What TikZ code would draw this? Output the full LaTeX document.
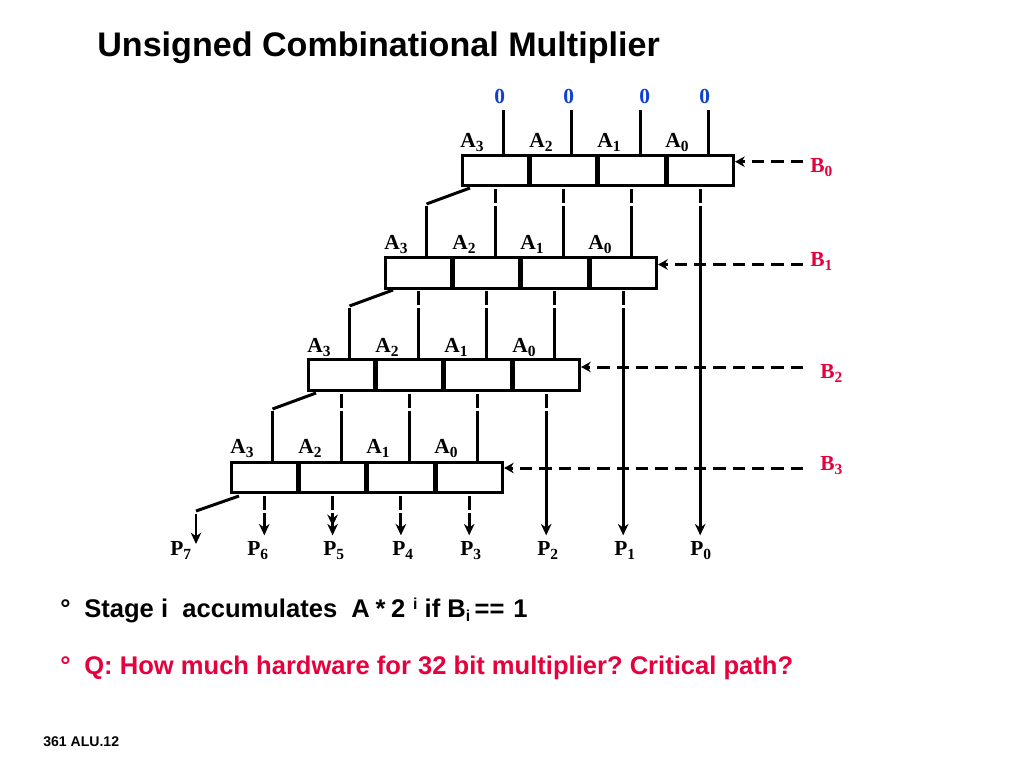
\documentclass[tikz,border=0pt]{standalone}
\usepackage{fontspec}
\setmainfont{Liberation Serif}
\newfontfamily\sansfont{Liberation Sans}
\usetikzlibrary{arrows.meta}
\usepackage{xcolor}
\definecolor{zeroblue}{HTML}{1040D0}
\definecolor{selred}{HTML}{E6003C}
\newcommand{\lbl}[2]{#1\raisebox{-2.8pt}{\fontsize{8.8}{9}\selectfont #2}}
\frenchspacing

\begin{document}
\begin{tikzpicture}[x=0.02cm,y=-0.02cm,
    cell/.style={draw,line width=1.7pt,minimum width=37.7pt,minimum height=17.6pt,inner sep=0pt,outer sep=0pt},
    pin/.style={inner sep=0pt,anchor=base west,font=\bfseries\fontsize{12.2}{14}\selectfont},
    sumtext/.style={inner sep=0pt,anchor=base west,font=\sansfont\bfseries\fontsize{14.55}{16}\selectfont},
    wire/.style={line width=1.7pt},
    tapped/.style={wire,shorten <=1.7pt,dash pattern=on 8pt off 1.7pt on 400pt},
    tip/.style={-{Stealth[length=6.5pt,width=6pt]}},
    sel/.style={line width=1.7pt,dash pattern=on 7pt off 4pt,-{Stealth[length=5.5pt,width=6pt]},shorten >=1pt}]
        \useasboundingbox (0,0) rectangle (1024,768);

        \node[inner sep=0pt,anchor=base west,font=\sansfont\bfseries\fontsize{19.4}{22}\selectfont] (title) at (97,56) {Unsigned Combinational Multiplier};

        % rows of adders
        \node[cell] (r0a3) at (495.3,170.5) {};
        \node[cell] (r0a2) at (563.6,170.5) {};
        \node[cell] (r0a1) at (631.9,170.5) {};
        \node[cell] (r0a0) at (700.2,170.5) {};
        \node[cell] (r1a3) at (418.3,272.7) {};
        \node[cell] (r1a2) at (486.6,272.7) {};
        \node[cell] (r1a1) at (554.9,272.7) {};
        \node[cell] (r1a0) at (623.2,272.7) {};
        \node[cell] (r2a3) at (341.3,375.3) {};
        \node[cell] (r2a2) at (409.6,375.3) {};
        \node[cell] (r2a1) at (477.9,375.3) {};
        \node[cell] (r2a0) at (546.2,375.3) {};
        \node[cell] (r3a3) at (264.3,477.5) {};
        \node[cell] (r3a2) at (332.6,477.5) {};
        \node[cell] (r3a1) at (400.9,477.5) {};
        \node[cell] (r3a0) at (469.2,477.5) {};

        % operand labels
        \node[pin] (l03) at (460,147) {\lbl{A}{3}};
        \node[pin] (l02) at (529,147) {\lbl{A}{2}};
        \node[pin] (l01) at (597,147) {\lbl{A}{1}};
        \node[pin] (l00) at (665,147) {\lbl{A}{0}};
        \node[pin] (l13) at (384,249) {\lbl{A}{3}};
        \node[pin] (l12) at (452,249) {\lbl{A}{2}};
        \node[pin] (l11) at (520,249) {\lbl{A}{1}};
        \node[pin] (l10) at (588,249) {\lbl{A}{0}};
        \node[pin] (l23) at (307,352) {\lbl{A}{3}};
        \node[pin] (l22) at (375,352) {\lbl{A}{2}};
        \node[pin] (l21) at (444,352) {\lbl{A}{1}};
        \node[pin] (l20) at (512,352) {\lbl{A}{0}};
        \node[pin] (l33) at (230,453) {\lbl{A}{3}};
        \node[pin] (l32) at (298,453) {\lbl{A}{2}};
        \node[pin] (l31) at (366,453) {\lbl{A}{1}};
        \node[pin] (l30) at (434,453) {\lbl{A}{0}};

        \node[pin,text=zeroblue] (z3) at (494,103) {0};
        \node[pin,text=zeroblue] (z2) at (563,103) {0};
        \node[pin,text=zeroblue] (z1) at (639,103) {0};
        \node[pin,text=zeroblue] (z0) at (699,103) {0};

        \node[pin,text=selred] (b0) at (810,172) {\lbl{B}{0}};
        \node[pin,text=selred] (b1) at (810,266) {\lbl{B}{1}};
        \node[pin,text=selred] (b2) at (820,378) {\lbl{B}{2}};
        \node[pin,text=selred] (b3) at (820,470) {\lbl{B}{3}};

        \node[pin] (p7) at (170,555) {\lbl{P}{7}};
        \node[pin] (p6) at (247,555) {\lbl{P}{6}};
        \node[pin] (p5) at (323,555) {\lbl{P}{5}};
        \node[pin] (p4) at (392,555) {\lbl{P}{4}};
        \node[pin] (p3) at (460,555) {\lbl{P}{3}};
        \node[pin] (p2) at (537,555) {\lbl{P}{2}};
        \node[pin] (p1) at (614,555) {\lbl{P}{1}};
        \node[pin] (p0) at (690,555) {\lbl{P}{0}};

        % free ends
        \coordinate (t3) at (503,110);
        \coordinate (t2) at (571.5,110);
        \coordinate (t1) at (640,110);
        \coordinate (t0) at (708,110);
        \coordinate (s0) at (803,161.7);
        \coordinate (s1) at (803,264.5);
        \coordinate (s2) at (803,367);
        \coordinate (s3) at (803,468);
        \coordinate (k0) at (470,188);
        \coordinate (k1) at (393,290);
        \coordinate (k2) at (316,393);
        \coordinate (k3) at (239,496);
        \coordinate (d0) at (426.5,204);
        \coordinate (d1) at (349.5,306);
        \coordinate (d2) at (272.5,409);
        \coordinate (d3) at (196,511);
        \coordinate (v0) at (426.5,206);
        \coordinate (v1) at (349.5,308);
        \coordinate (v2) at (272.5,411);
        \coordinate (v3) at (196,514);
        \coordinate (e7) at (196,544);
        \coordinate (e5) at (332.6,526);

        % zero inputs
        \draw[wire] (t3) -- (t3 |- r0a3.north);
        \draw[wire] (t2) -- (t2 |- r0a2.north);
        \draw[wire] (t1) -- (t1 |- r0a1.north);
        \draw[wire] (t0) -- (t0 |- r0a0.north);

        % sums into the next row
        \draw[tapped] (r0a3.south) -- (r0a3.south |- r1a2.north);
        \draw[tapped] (r0a2.south) -- (r0a2.south |- r1a1.north);
        \draw[tapped] (r0a1.south) -- (r0a1.south |- r1a0.north);
        \draw[tapped] (r1a3.south) -- (r1a3.south |- r2a2.north);
        \draw[tapped] (r1a2.south) -- (r1a2.south |- r2a1.north);
        \draw[tapped] (r1a1.south) -- (r1a1.south |- r2a0.north);
        \draw[tapped] (r2a3.south) -- (r2a3.south |- r3a2.north);
        \draw[tapped] (r2a2.south) -- (r2a2.south |- r3a1.north);
        \draw[tapped] (r2a1.south) -- (r2a1.south |- r3a0.north);

        % carries
        \draw[wire] (k0) -- (d0);
        \draw[wire] (k1) -- (d1);
        \draw[wire] (k2) -- (d2);
        \draw[wire] (k3) -- (d3);
        \draw[wire] (v0) -- (v0 |- r1a3.north);
        \draw[wire] (v1) -- (v1 |- r2a3.north);
        \draw[wire] (v2) -- (v2 |- r3a3.north);
        \draw[wire,tip] (v3) -- (e7);

        % products
        \draw[tapped,tip,shorten >=3pt] (r3a3.south) -- (r3a3.south |- p6.north);
        \draw[tapped,tip] (r3a2.south) -- (e5);
        \draw[tapped,tip,shorten >=3pt] (r3a2.south) -- (r3a2.south |- p5.north);
        \draw[tapped,tip,shorten >=3pt] (r3a1.south) -- (r3a1.south |- p4.north);
        \draw[tapped,tip,shorten >=3pt] (r3a0.south) -- (r3a0.south |- p3.north);
        \draw[tapped,tip,shorten >=3pt] (r2a0.south) -- (r2a0.south |- p2.north);
        \draw[tapped,tip,shorten >=3pt] (r1a0.south) -- (r1a0.south |- p1.north);
        \draw[tapped,tip,shorten >=3pt] (r0a0.south) -- (r0a0.south |- p0.north);

        % multiplier bits
        \draw[sel] (s0) -- (s0 -| r0a0.east);
        \draw[sel] (s1) -- (s1 -| r1a0.east);
        \draw[sel] (s2) -- (s2 -| r2a0.east);
        \draw[sel] (s3) -- (s3 -| r3a0.east);

        % notes
        \node[sumtext] (m1) at (60,617) {°};
        \node[sumtext] (n1) at (84,617) {Stage i\ \ accumulates\ \ A\kern3.2pt*\kern3.2pt2\kern4.5pt\raisebox{4.5pt}{\fontsize{9}{10}\selectfont i} if B\raisebox{-2.8pt}{\fontsize{9}{10}\selectfont i}\kern2.5pt==\kern5pt 1};
        \node[sumtext,text=selred] (m2) at (60,674) {°};
        \node[sumtext,text=selred] (n2) at (84,674) {Q: How much hardware for 32 bit multiplier? Critical path?};
        \node[inner sep=0pt,anchor=base west,font=\sansfont\bfseries\fontsize{8}{9}\selectfont] (foot) at (43,746) {361 ALU.12};
\end{tikzpicture}
\end{document}
